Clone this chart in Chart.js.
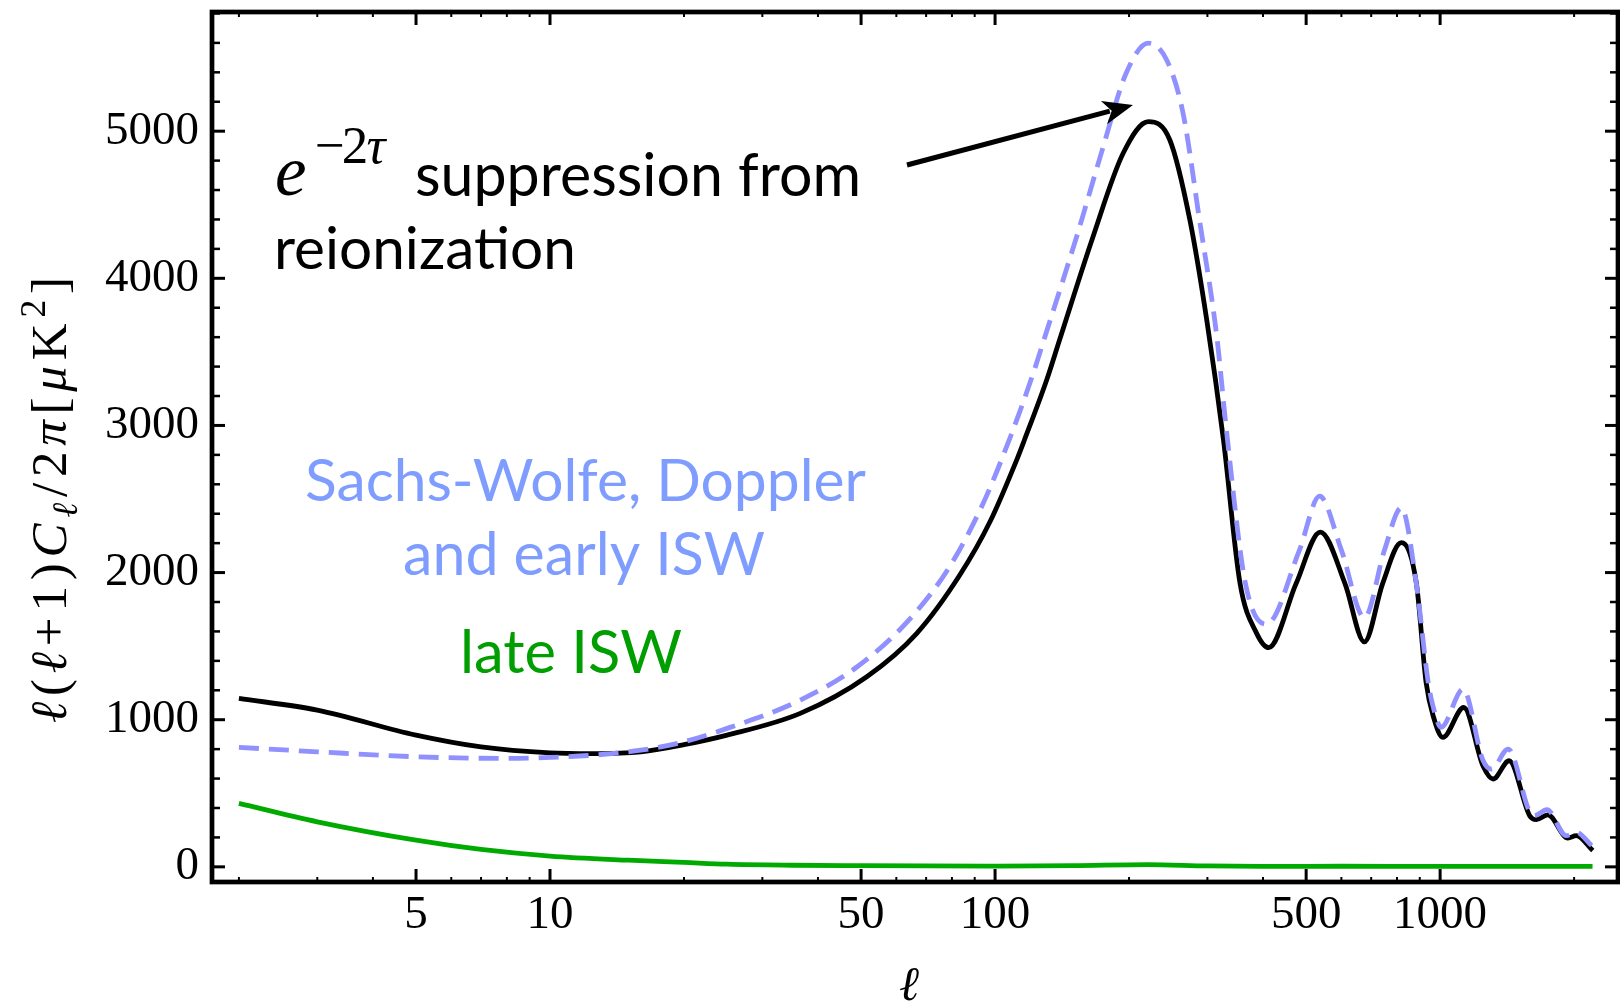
<!DOCTYPE html>
<html><head><meta charset="utf-8">
<script src="https://cdn.jsdelivr.net/npm/chart.js@4.4.1/dist/chart.umd.min.js"></script>
<style>html,body{margin:0;padding:0;background:#fff;overflow:hidden}canvas{display:block}</style>
</head><body>
<canvas id="c" width="1620" height="1004"></canvas>
<script>
// ---- data ----
const ellTotal = [2,3,5,7,10,12.5,16,20,25,36.5,51.5,66.7,83.4,97.4,112,116.4,130.6,139.6,166,194,221,247,274,299,326,355,387,412,475,538,611,676,743,818,884,930,966,1014,1130,1248,1315,1429,1589,1645,1746,1937,2022,2203];
const totalCl  = [1145,1065,895,815,775,770,782,830,895,1043,1292,1587,1985,2345,2770,2901,3309,3581,4283,4850,5065,4940,4396,3716,2901,1930,1587,1490,1927,2275,1927,1529,1927,2203,1931,1253,1020,880,1083,687,597,721,348,321,353,195,212,111];

const ellSW = [2,3,5,8,10,12.5,16,20,25,36.5,49,64,79,94,108.5,122,130.6,152.5,175,197,221,243,264.5,288,315,331,365,407,483,536,600,676,750,818,884,941,970,1005,1126,1248,1304,1422,1589,1629,1738,1920,2022,2190];
const swCl  = [812,782,748,737,744,759,793,850,941,1133,1360,1677,2039,2470,2930,3360,3640,4283,4895,5394,5598,5484,5122,4396,3603,2969,1930,1649,2153,2519,2153,1694,2153,2440,1927,1247,1060,948,1208,725,665,800,374,348,389,212,235,145];

const ellLate = [2,3,5,7,10,15,20,25,35,50,70,100,150,220,300,400,600,1000,1500,2200];
const lateCl  = [431,306,181,118,73,45,30,18,11,8,6,5,8,15,6,3,4,3,3,3];

const xMajorTicks = [5,10,50,100,500,1000];
const xMinorTicks = [2,3,4,6,7,8,9,20,30,40,60,70,80,90,200,300,400,600,700,800,900,2000];
const yMajorTicks = [0,1000,2000,3000,4000,5000];
const yMinorTicks = [200,400,600,800,1200,1400,1600,1800,2200,2400,2600,2800,3200,3400,3600,3800,4200,4400,4600,4800,5200,5400,5600,5800];

const BLACK = '#000000';
const DASH_BLUE = '#9090ff';
const GREEN = '#00aa00';
const TEXT_BLUE = '#7f9dff';
const TEXT_GREEN = '#009e00';
const SERIF = "'Liberation Serif','Times New Roman',serif";
const SANS = "Lato,'Open Sans',sans-serif";

const pts = (xs, ys) => xs.map((v, i) => ({x: v, y: ys[i]}));

// ---- frame, ticks, annotations ----
const decor = {
  id: 'decor',
  afterDatasetsDraw(chart) {
    const {ctx, chartArea: a, scales: {x, y}} = chart;
    ctx.save();
    ctx.strokeStyle = '#000';
    ctx.lineCap = 'butt';
    const seg = (x1, y1, x2, y2, w) => { ctx.lineWidth = w; ctx.beginPath(); ctx.moveTo(x1, y1); ctx.lineTo(x2, y2); ctx.stroke(); };
    xMajorTicks.forEach(v => { const p = x.getPixelForValue(v); seg(p, a.bottom, p, a.bottom - 13, 3); seg(p, a.top, p, a.top + 13, 3); });
    xMinorTicks.forEach(v => { const p = x.getPixelForValue(v); seg(p, a.bottom, p, a.bottom - 5, 2); seg(p, a.top, p, a.top + 5, 2); });
    yMajorTicks.forEach(v => { const p = y.getPixelForValue(v); seg(a.left, p, a.left + 13, p, 3); seg(a.right, p, a.right - 13, p, 3); });
    yMinorTicks.forEach(v => { const p = y.getPixelForValue(v); seg(a.left, p, a.left + 8, p, 2.5); seg(a.right, p, a.right - 8, p, 2.5); });
    ctx.lineWidth = 4.7;
    ctx.strokeRect(a.left, a.top, a.right - a.left, a.bottom - a.top);
    ctx.restore();
  },
  afterDraw(chart) {
    const ctx = chart.ctx;
    ctx.save();
    // sans annotations, sized to fit their widths
    const notes = [
      {t: 'suppression from', l: 415, r: 861, b: 196, c: BLACK},
      {t: 'reionization', l: 274, r: 576, b: 269, c: BLACK},
      {t: 'Sachs-Wolfe, Doppler', l: 305, r: 866, b: 501, c: TEXT_BLUE},
      {t: 'and early ISW', l: 403, r: 765, b: 574.5, c: TEXT_BLUE},
      {t: 'late ISW', l: 460, r: 682, b: 672.5, c: TEXT_GREEN}
    ];
    ctx.textBaseline = 'alphabetic';
    ctx.textAlign = 'left';
    notes.forEach(n => {
      ctx.font = '100px ' + SANS;
      const w = ctx.measureText(n.t).width;
      const s = 100 * (n.r - n.l) / w;
      ctx.font = s.toFixed(2) + 'px ' + SANS;
      ctx.fillStyle = n.c;
      ctx.fillText(n.t, n.l, n.b);
    });
    // e^{-2tau}
    ctx.fillStyle = BLACK;
    ctx.font = 'italic 71px ' + SERIF;
    ctx.fillText('e', 275, 195);
    ctx.font = '53px ' + SERIF;
    ctx.textAlign = 'center';
    ctx.fillText('\u2212', 330, 163);
    ctx.fillText('2', 355, 163);
    ctx.font = 'italic 53px ' + SERIF;
    ctx.fillText('\u03c4', 376, 163);
    ctx.textAlign = 'left';

    // arrow
    const x0 = 907, y0 = 165, x1 = 1133, y1 = 105;
    const ang = Math.atan2(y1 - y0, x1 - x0);
    const L = 30, H = 12;
    ctx.strokeStyle = BLACK; ctx.lineWidth = 5;
    ctx.beginPath(); ctx.moveTo(x0, y0);
    ctx.lineTo(x1 - (L - 6) * Math.cos(ang), y1 - (L - 6) * Math.sin(ang)); ctx.stroke();
    ctx.translate(x1, y1); ctx.rotate(ang);
    ctx.beginPath(); ctx.moveTo(0, 0); ctx.lineTo(-L, -H); ctx.lineTo(-L + 8, 0); ctx.lineTo(-L, H); ctx.closePath(); ctx.fill();
    ctx.setTransform(1, 0, 0, 1, 0, 0);

    // x axis title
    ctx.font = 'italic 48px ' + SERIF;
    ctx.textAlign = 'center';
    ctx.fillText('\u2113', 909, 1000);

    // y axis title (rich text, rotated), fixed size with spacing to fill its length
    const S = 51, LEN = 446;
    const parts = [
      {t: '\u2113', it: true}, {t: '(', it: false}, {t: '\u2113', it: true}, {t: '+', it: false}, {t: '1', it: false}, {t: ')', it: false},
      {t: 'C', it: true}, {t: '\u2113', it: true, sc: 0.7, dy: 0.22},
      {t: '/', it: false}, {t: '2', it: false}, {t: '\u03c0', it: true}, {t: '[', it: false}, {t: '\u03bc', it: true},
      {t: 'K', it: false}, {t: '2', it: false, sc: 0.7, dy: -0.42}, {t: ']', it: false}
    ];
    const fontFor = p => (p.it ? 'italic ' : '') + (S * (p.sc || 1)).toFixed(2) + 'px ' + SERIF;
    ctx.textAlign = 'left';
    let W = 0;
    parts.forEach(p => { ctx.font = fontFor(p); p.w = ctx.measureText(p.t).width; W += p.w; });
    const gap = Math.max(0, (LEN - W) / (parts.length - 1));
    const tot = W + gap * (parts.length - 1);
    ctx.translate(66, 500); ctx.rotate(-Math.PI / 2);
    let cx = -tot / 2;
    parts.forEach(p => {
      ctx.font = fontFor(p);
      ctx.fillText(p.t, cx, (p.dy || 0) * S);
      cx += p.w + gap;
    });
    ctx.restore();
  }
};

new Chart(document.getElementById('c'), {
  type: 'line',
  data: {
    datasets: [
      {label: 'Sachs-Wolfe, Doppler and early ISW', data: pts(ellSW, swCl), borderColor: DASH_BLUE, borderWidth: 4.8, borderDash: [20, 10], order: 0},
      {label: 'total', data: pts(ellTotal, totalCl), borderColor: BLACK, borderWidth: 4.8, order: 1},
      {label: 'late ISW', data: pts(ellLate, lateCl), borderColor: GREEN, borderWidth: 4.8, order: 2}
    ]
  },
  options: {
    responsive: false,
    animation: false,
    devicePixelRatio: 1,
    elements: {point: {radius: 0}, line: {cubicInterpolationMode: 'monotone', fill: false}},
    layout: {padding: {top: 12, right: 2, left: 0, bottom: 0}},
    plugins: {legend: {display: false}, tooltip: {enabled: false}},
    scales: {
      x: {
        type: 'logarithmic', min: 1.74, max: 2510,
        grid: {display: false, drawTicks: false}, border: {display: false},
        afterBuildTicks: s => { s.ticks = xMajorTicks.map(v => ({value: v})); },
        afterFit: s => { s.height = 122; s.paddingLeft = 0; s.paddingRight = 0; },
        ticks: {autoSkip: false, maxRotation: 0, minRotation: 0, padding: 5, color: '#000',
          font: {family: SERIF, size: 47}, callback: v => String(v)}
      },
      y: {
        type: 'linear', min: -103, max: 5810,
        grid: {display: false, drawTicks: false}, border: {display: false},
        afterBuildTicks: s => { s.ticks = yMajorTicks.map(v => ({value: v})); },
        afterFit: s => { s.width = 212; s.paddingTop = 0; s.paddingBottom = 0; },
        ticks: {autoSkip: false, padding: 13, color: '#000',
          font: {family: SERIF, size: 47}, callback: v => String(v)}
      }
    }
  },
  plugins: [decor]
});
</script>
</body></html>
